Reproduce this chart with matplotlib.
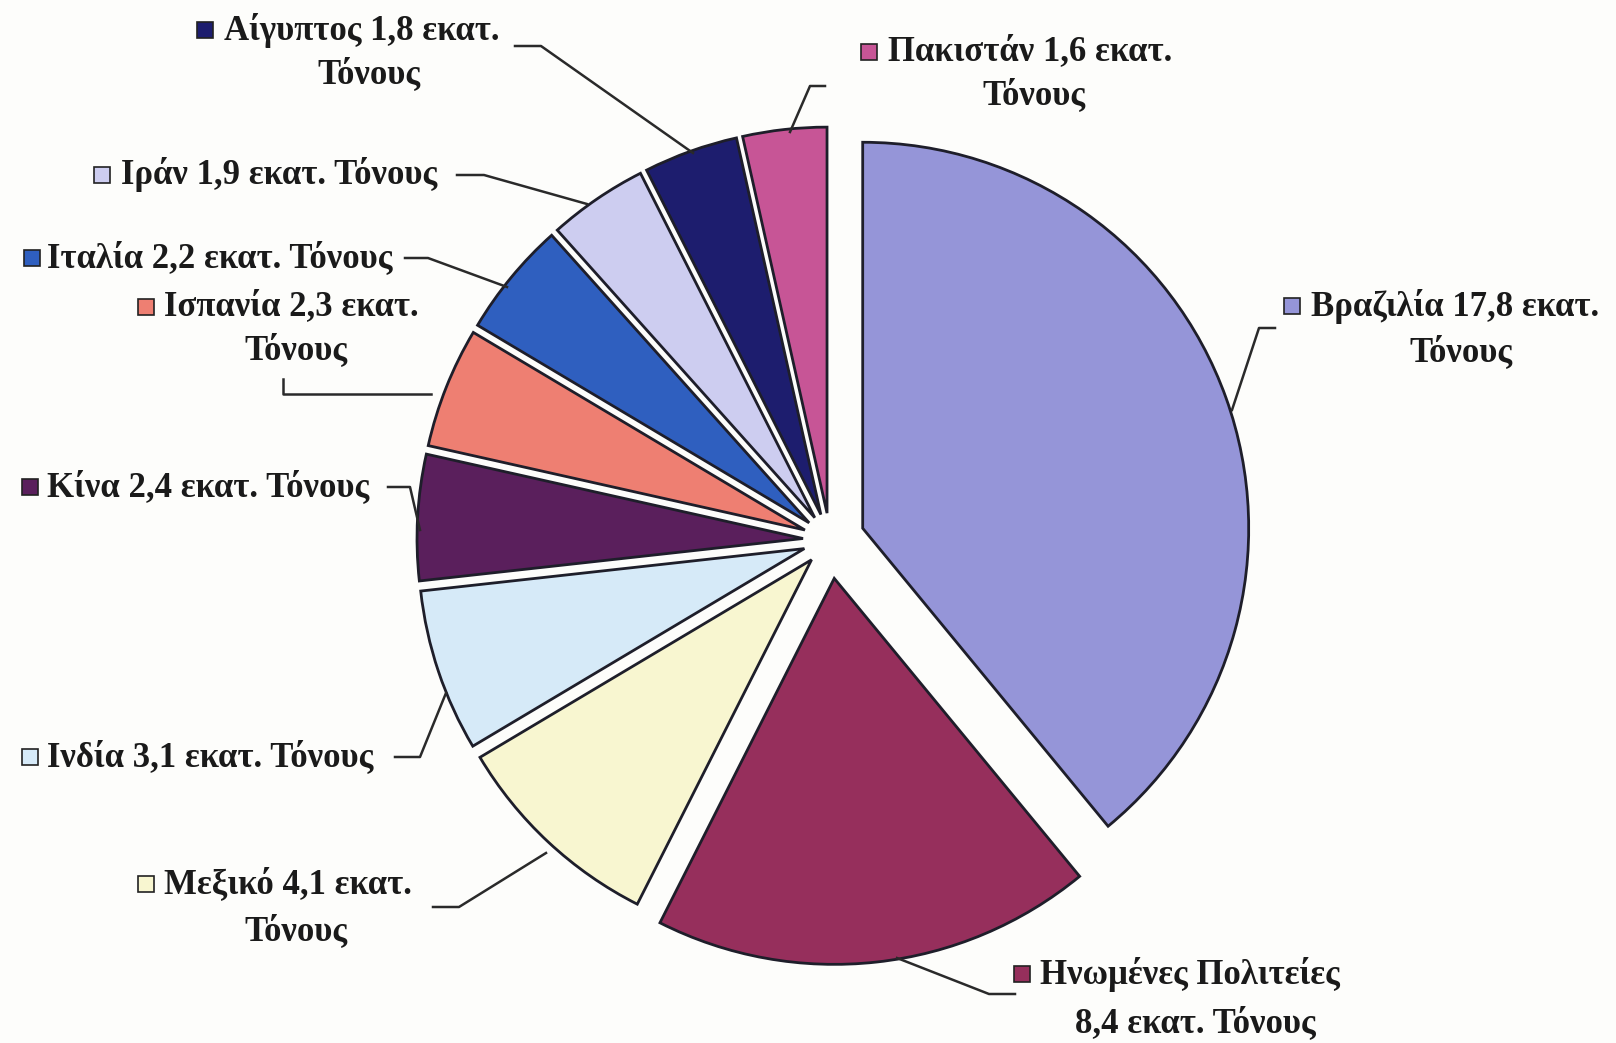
import numpy as np
import matplotlib.pyplot as plt

plt.rcParams['font.family'] = ['Liberation Serif', 'DejaVu Serif']

# παραγωγή σε εκατ. τόνους
countries = ['Βραζιλία', 'Ηνωμένες Πολιτείες', 'Μεξικό', 'Ινδία', 'Κίνα',
             'Ισπανία', 'Ιταλία', 'Ιράν', 'Αίγυπτος', 'Πακιστάν']
values = [17.8, 8.4, 4.1, 3.1, 2.4, 2.3, 2.2, 1.9, 1.8, 1.6]
value_labels = ['17,8', '8,4', '4,1', '3,1', '2,4', '2,3', '2,2', '1,9', '1,8', '1,6']
colors = ['#9595d8', '#962f5c', '#f8f6d0', '#d6eaf8', '#5a1f5c',
          '#ee7f72', '#2f5fbf', '#cdcdf0', '#1d1d6e', '#c75596']
# explode as a fraction of the radius
explode = [0.09, 0.10, 0.07, 0.07, 0.07, 0.07, 0.07, 0.07, 0.07, 0.07]

W, H = 1616, 1043
fig = plt.figure(figsize=(W / 100, H / 100), dpi=100, facecolor='#fdfdfb')
ax = fig.add_axes([0, 0, 1, 1])
ax.set_facecolor('#fdfdfb')

cx, cy, R = 830, H - 540, 386
# pie() offsets wedges by explode in data units, so scale by the radius
ax.pie(values, colors=colors, explode=[e * R for e in explode],
       startangle=90, counterclock=False, center=(cx, cy), radius=R,
       wedgeprops=dict(edgecolor='#1e1e2a', linewidth=2.0))
ax.set_xlim(0, W)
ax.set_ylim(0, H)
ax.set_aspect('equal')
ax.axis('off')

# label layout: (square x, text left x, line1 y, line2 center x, line2 y, split)
layout = {
    'Αίγυπτος': (205, 224, 30, 369, 74, True),
    'Πακιστάν': (869, 888, 52, 1034, 95, True),
    'Ιράν': (102, 121, 175, None, None, False),
    'Ιταλία': (32, 47, 258, None, None, False),
    'Ισπανία': (146, 164, 307, 296, 350, True),
    'Κίνα': (30, 47, 487, None, None, False),
    'Ινδία': (30, 47, 757, None, None, False),
    'Μεξικό': (146, 164, 884, 296, 931, True),
    'Ηνωμένες Πολιτείες': (1022, 1040, 974, 1195, 1023, True),
    'Βραζιλία': (1292, 1311, 306, 1461, 352, True),
}
leaders = {
    'Αίγυπτος': [(515, 46), (541, 46), (693, 153)],
    'Πακιστάν': [(825, 86), (810, 86), (790, 132)],
    'Ιράν': [(457, 175), (484, 175), (587, 204)],
    'Ιταλία': [(405, 258), (428, 258), (507, 287)],
    'Ισπανία': [(283, 379), (283, 394), (431, 394)],
    'Κίνα': [(388, 487), (410, 487), (420, 530)],
    'Ινδία': [(395, 757), (420, 757), (446, 693)],
    'Μεξικό': [(433, 907), (459, 907), (546, 853)],
    'Ηνωμένες Πολιτείες': [(1015, 994), (989, 994), (897, 958)],
    'Βραζιλία': [(1275, 328), (1259, 328), (1232, 410)],
}

fs = 25
for name, v, c in zip(countries, value_labels, colors):
    sx, tx, y1, x2, y2, split = layout[name]
    if name == 'Ηνωμένες Πολιτείες':
        line1, line2 = name, v + ' εκατ. Τόνους'
    elif split:
        line1, line2 = name + ' ' + v + ' εκατ.', 'Τόνους'
    else:
        line1, line2 = name + ' ' + v + ' εκατ. Τόνους', None
    ax.plot(sx, H - y1, marker='s', markersize=11, color=c,
            markeredgecolor='#222222', markeredgewidth=1.2)
    ax.text(tx, H - y1, line1, ha='left', va='center', fontsize=fs,
            fontweight='bold', color='#1a1a1a')
    if line2:
        ax.text(x2, H - y2, line2, ha='center', va='center', fontsize=fs,
                fontweight='bold', color='#1a1a1a')
    pts = np.array(leaders[name], dtype=float)
    ax.plot(pts[:, 0], H - pts[:, 1], color='#2a2a2a', linewidth=1.8)

fig.savefig('out.png', dpi=100, facecolor=fig.get_facecolor())
